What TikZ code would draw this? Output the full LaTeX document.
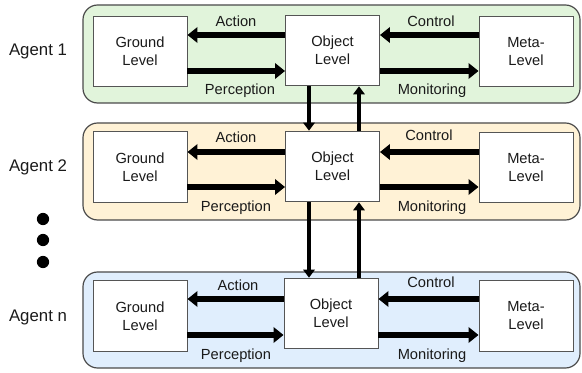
\documentclass[tikz,border=0pt]{standalone}
\usepackage{fontspec}
\setmainfont{Liberation Sans}
\usetikzlibrary{arrows.meta,calc}
\definecolor{pgreen}{HTML}{E1F4DB}
\definecolor{pyellow}{HTML}{FFF2D6}
\definecolor{pblue}{HTML}{E0EEFD}
\definecolor{pborder}{HTML}{4A4A4A}
\definecolor{bborder}{HTML}{555555}
\definecolor{txt}{HTML}{1A1A1A}
\begin{document}
\begin{tikzpicture}[x=0.75pt,y=-0.75pt,
  panel/.style={draw=pborder,line width=0.9pt,rounded corners=11pt},
  levelbox/.style={draw=bborder,fill=white,line width=0.7pt,minimum width=70.5pt,minimum height=53pt,inner sep=0pt,align=center,text=txt,font=\fontsize{11}{13.5}\selectfont},
  lbl/.style={inner sep=0pt,text=txt,font=\fontsize{11}{13}\selectfont},
  agent/.style={inner sep=0pt,text=txt,font=\fontsize{12.6}{14}\selectfont},
  harr/.style={line width=4.7pt,-{Triangle[length=7.5pt,width=11.5pt]}},
  varr/.style={line width=3.7pt,-{Triangle[length=6pt,width=8.5pt]}},
  dot/.style={fill=black,draw=none}
]
\useasboundingbox (0,0) rectangle (582,373);
% panels
\draw[panel,fill=pgreen] (83,5) rectangle (580,103);
\draw[panel,fill=pyellow] (83,123) rectangle (580,220);
\draw[panel,fill=pblue] (83,272) rectangle (580,368);
% agent labels
\node[agent] (a1) at (38,51) {Agent 1};
\node[agent] (a2) at (38,167) {Agent 2};
\node[agent] (an) at (38,317) {Agent n};
% dots
\fill[dot] (43,219) circle (4.6pt);
\fill[dot] (43,240) circle (4.6pt);
\fill[dot] (43,262) circle (4.6pt);
% row 1
\node[levelbox] (g1) at (140,51.5) {Ground\\Level};
\node[levelbox] (o1) at (332.5,50.5) {Object\\Level};
\node[levelbox] (m1) at (526,51.5) {Meta-\\Level};
% row 2
\node[levelbox] (g2) at (140,167) {Ground\\Level};
\node[levelbox] (o2) at (332.5,166.5) {Object\\Level};
\node[levelbox] (m2) at (526,167.5) {Meta-\\Level};
% row 3
\node[levelbox] (g3) at (140,316) {Ground\\Level};
\node[levelbox] (o3) at (331,313.5) {Object\\Level};
\node[levelbox] (m3) at (526,316) {Meta-\\Level};
% horizontal arrows row 1
\draw[harr] (o1.west |- 0,35) -- (g1.east |- 0,35);
\draw[harr] (g1.east |- 0,71) -- (o1.west |- 0,71);
\draw[harr] (m1.west |- 0,35) -- (o1.east |- 0,35);
\draw[harr] (o1.east |- 0,71) -- (m1.west |- 0,71);
% row 2
\draw[harr] (o2.west |- 0,152) -- (g2.east |- 0,152);
\draw[harr] (g2.east |- 0,187) -- (o2.west |- 0,187);
\draw[harr] (m2.west |- 0,152) -- (o2.east |- 0,152);
\draw[harr] (o2.east |- 0,187) -- (m2.west |- 0,187);
% row 3
\draw[harr] (o3.west |- 0,299) -- (g3.east |- 0,299);
\draw[harr] (g3.east |- 0,335) -- (o3.west |- 0,335);
\draw[harr] (m3.west |- 0,299) -- (o3.east |- 0,299);
\draw[harr] (o3.east |- 0,335) -- (m3.west |- 0,335);
% labels
\node[lbl] (act1) at (236,21) {Action};
\node[lbl] (per1) at (240,91) {Perception};
\node[lbl] (con1) at (431,21) {Control};
\node[lbl] (mon1) at (432,91) {Monitoring};
\node[lbl] (act2) at (236,137) {Action};
\node[lbl] (per2) at (236,208) {Perception};
\node[lbl] (con2) at (429,135) {Control};
\node[lbl] (mon2) at (432,208) {Monitoring};
\node[lbl] (act3) at (238,285) {Action};
\node[lbl] (per3) at (236,356) {Perception};
\node[lbl] (con3) at (431,282) {Control};
\node[lbl] (mon3) at (432,356) {Monitoring};
% vertical arrows
\draw[varr] (o1.south -| 309,0) -- (o2.north -| 309,0);
\draw[varr] (o2.north -| 359,0) -- (o1.south -| 359,0);
\draw[varr] (o2.south -| 309,0) -- (o3.north -| 309,0);
\draw[varr] (o3.north -| 359,0) -- (o2.south -| 359,0);
\end{tikzpicture}
\end{document}
